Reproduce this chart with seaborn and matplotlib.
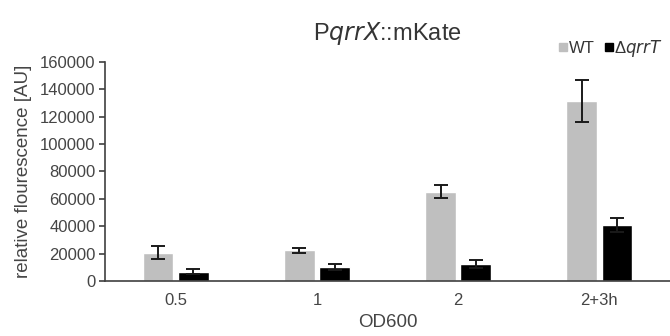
import matplotlib
matplotlib.use("Agg")
import matplotlib.pyplot as plt
import seaborn as sns
import pandas as pd
import numpy as np

categories = ["0.5", "1", "2", "2+3h"]
strains = ["WT", "ΔqrrT"]
wt_values = [20800, 22300, 65200, 131500]
wt_err = [4700, 1800, 4800, 15500]
ko_values = [6800, 10000, 12400, 40900]
ko_err = [2000, 2200, 2800, 4800]

colors = {"WT": "#BFBFBF", "ΔqrrT": "#000000"}

sns.set_theme(style="white")
plt.rcParams['font.family'] = ['Liberation Sans', 'DejaVu Sans']

df = pd.DataFrame({
    "OD600": categories * 2,
    "strain": ["WT"] * 4 + ["ΔqrrT"] * 4,
    "value": wt_values + ko_values,
    "err": wt_err + ko_err,
})

fig = plt.figure(figsize=(6.7, 3.36), dpi=100)
ax = fig.add_axes([0.157, 0.1637, 0.843, 0.652])

sns.barplot(data=df, x="OD600", y="value", hue="strain", order=categories,
            hue_order=strains, palette=colors, width=0.5, gap=0.13,
            errorbar=None, legend=False, ax=ax, saturation=1)

# error bars at bar centers
bars = [p for p in ax.patches]
for i, p in enumerate(bars[:8]):
    s = i // 4
    c = i % 4
    val = wt_values[c] if s == 0 else ko_values[c]
    err = wt_err[c] if s == 0 else ko_err[c]
    xc = p.get_x() + p.get_width() / 2
    ax.errorbar(xc, val, yerr=err, fmt="none", ecolor="#1a1a1a",
                elinewidth=1.4, capsize=5, capthick=1.4)

ax.set_ylim(0, 160000)
ax.set_xlim(-0.5, 3.5)
ax.set_yticks(np.arange(0, 160001, 20000))
ax.set_yticklabels([str(v) for v in range(0, 160001, 20000)])

for sp in ["top", "right"]:
    ax.spines[sp].set_visible(False)
for sp in ["left", "bottom"]:
    ax.spines[sp].set_color("#404040")
    ax.spines[sp].set_linewidth(1.2)

ax.tick_params(axis="y", which="both", left=True, length=4, width=1.2,
               color="#404040", labelsize=12, labelcolor="#454545", pad=3)
ax.tick_params(axis="x", bottom=False, length=0, labelsize=12,
               labelcolor="#454545", pad=9)

ax.set_xlabel("OD600", fontsize=13.5, color="#454545", labelpad=4)
ax.set_ylabel("relative flourescence [AU]", fontsize=13.5, color="#454545", labelpad=6)

fig.text(0.578, 0.90, r"P$\it{qrrX}$::mKate", ha="center", va="center",
         fontsize=17, color="#353535")

from matplotlib.lines import Line2D
handles = [Line2D([0], [0], marker="s", linestyle="none", markersize=5.5,
                  markerfacecolor=colors[s], markeredgecolor=colors[s]) for s in strains]
leg = fig.legend(handles, ["WT", r"Δ$\it{qrrT}$"], loc="center right",
                 bbox_to_anchor=(1.012, 0.855), ncol=2, frameon=False,
                 handlelength=0.5, handletextpad=0.1, columnspacing=0.6,
                 fontsize=12, labelcolor="#353535")

fig.savefig("out.png", dpi=100)
